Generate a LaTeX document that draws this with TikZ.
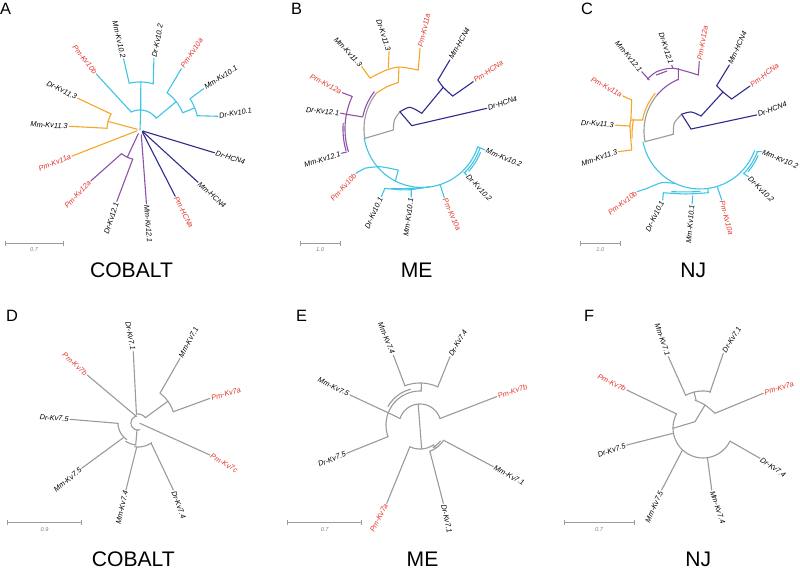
\documentclass[tikz,border=0pt]{standalone}
\usepackage{fontspec}
\setmainfont{Liberation Sans}

\definecolor{cyanarbre}{RGB}{64,196,230}
\definecolor{orangearbre}{RGB}{245,166,40}
\definecolor{violetarbre}{RGB}{142,82,168}
\definecolor{marinearbre}{RGB}{48,44,140}
\definecolor{grisarbre}{RGB}{155,155,155}
\definecolor{rouge}{RGB}{230,50,40}

\newcounter{nfeuille}
\newcommand{\lamp}[1]{\textcolor{rouge}{#1}}
% arc centre sur la racine : rayon, angle debut, angle fin, style
\newcommand{\arcp}[4]{\draw[#4] plot[domain=#2:#3, samples=30] (\x:#1);}
% feuille : angle/rayon de depart, angle/rayon du bout, angle du texte, style, texte
\newcommand{\feuille}[7]{%
  \stepcounter{nfeuille}%
  \draw[#6] (#1:#2) -- (#3:#4) coordinate (b\thenfeuille);
  \ifdim #5pt<90pt
    \node[etiq,anchor=west,rotate=#5] (f\thenfeuille) at (b\thenfeuille) {#7};
  \else
    \node[etiq,anchor=east,rotate=#5-180] (f\thenfeuille) at (b\thenfeuille) {#7};
  \fi}

\tikzset{
  branche/.style={line width=0.95pt, line cap=round},
  kvdix/.style={branche, draw=cyanarbre},
  kvonze/.style={branche, draw=orangearbre},
  kvdouze/.style={branche, draw=violetarbre},
  hcn/.style={branche, draw=marinearbre},
  racine/.style={branche, draw=grisarbre},
  kvsept/.style={branche, draw=grisarbre},
  etiq/.style={font=\fontsize{6.3}{7}\selectfont\itshape, inner sep=1pt},
  titre/.style={font=\fontsize{18}{20}\selectfont, anchor=base, inner sep=0pt},
  lettre/.style={font=\fontsize{14}{16}\selectfont, anchor=base west, inner sep=0pt},
  echelle/.style={draw=grisarbre, line width=0.7pt},
  echtxt/.style={font=\fontsize{4.8}{5}\selectfont\itshape, text=gray, inner sep=0pt}
}

\begin{document}
\begin{tikzpicture}[x=0.03cm, y=0.03cm]
  \useasboundingbox (0,0) rectangle (800,-571);

  % Lettres des panneaux
  \node[lettre] (lettreA) at (0,-15) {A};
  \node[lettre] (lettreB) at (291,-15) {B};
  \node[lettre] (lettreC) at (581,-15) {C};
  \node[lettre] (lettreD) at (6,-322) {D};
  \node[lettre] (lettreE) at (296,-322) {E};
  \node[lettre] (lettreF) at (584,-322) {F};

  % Titres
  \node[titre] (titreA) at (131.5,-278) {COBALT};
  \node[titre] (titreB) at (416.7,-278) {ME};
  \node[titre] (titreC) at (693.3,-278) {NJ};
  \node[titre] (titreD) at (133.3,-567) {COBALT};
  \node[titre] (titreE) at (422.5,-567) {ME};
  \node[titre] (titreF) at (698.3,-567) {NJ};

  % Barres d'echelle
  \foreach \xa/\xb/\yy/\val [count=\i] in {5/63.3/243.3/0.7, 300/340/243.3/1.0,
      580.7/620/243.3/1.0, 7.3/81.7/522.7/0.9, 287.7/361.7/522.7/0.7, 564/634/522.7/0.7}
  {
    \draw[echelle] (\xa,-\yy) -- (\xb,-\yy);
    \draw[echelle] (\xa,{-\yy+2.7}) -- (\xa,{-\yy-2.7});
    \draw[echelle] (\xb,{-\yy+2.7}) -- (\xb,{-\yy-2.7});
    \node[echtxt] (ech\i) at ({(\xa+\xb)/2},{-\yy-6.5}) {\val};
  }

  % Panneau A : COBALT
  \begin{scope}[shift={(140,-130)}]
    \draw[kvdix] (0,0) -- (88:20);
    \arcp{20}{36}{116}{kvdix}
    \feuille{116}{20}{128}{71}{128}{kvdix}{\lamp{Pm-Kv10b}}
    \draw[kvdix] (88:20) -- (89:48);
    \arcp{48}{74}{103}{kvdix}
    \feuille{103}{48}{103}{73}{103}{kvdix}{Mm-Kv10.2}
    \feuille{74}{48}{79}{73}{79}{kvdix}{Dr-Kv10.2}
    \draw[kvdix] (36:20) -- (38:46);
    \arcp{46}{22}{54}{kvdix}
    \feuille{54}{46}{56}{74}{56}{kvdix}{\lamp{Pm-Kv10a}}
    \draw[kvdix] (22:46) -- (22:59);
    \arcp{59}{14}{32}{kvdix}
    \feuille{32}{59}{33}{76}{33}{kvdix}{Mm-Kv10.1}
    \feuille{14}{59}{10}{79}{10}{kvdix}{Dr-Kv10.1}
    \draw[kvonze] (165:3) -- (165:33);
    \arcp{33}{151}{177}{kvonze}
    \feuille{151}{33}{153}{70}{153}{kvonze}{Dr-Kv11.3}
    \feuille{177}{33}{177}{71}{177}{kvonze}{Mm-Kv11.3}
    \feuille{195}{3}{201}{73}{201}{kvonze}{\lamp{Pm-Kv11a}}
    \draw[kvdouze] (245:4) -- (245:30);
    \arcp{30}{232}{256}{kvdouze}
    \feuille{232}{30}{226}{71}{226}{kvdouze}{\lamp{Pm-Kv12a}}
    \feuille{256}{30}{252}{75}{252}{kvdouze}{Dr-Kv12.1}
    \feuille{-75}{5}{-85}{74}{-85}{kvdouze}{Mm-Kv12.1}
    \feuille{-40}{3}{-62}{75}{-62}{hcn}{\lamp{Pm-HCNa}}
    \feuille{-30}{3}{-42}{78}{-42}{hcn}{Mm-HCN4}
    \feuille{-20}{3}{-17}{78}{-17}{hcn}{Dr-HCN4}
  \end{scope}

  % Panneau B : ME
  \begin{scope}[shift={(422,-129)}]
    \draw[racine] (189.3:57.8) -- (182:28.7);
    \draw[racine] plot[smooth] coordinates {(182:28.7) (162:29) (142:28)};
    \draw[hcn] plot[smooth] coordinates {(142:28) (119:24.8) (91:15.7)};
    \draw[hcn] (142:28) -- (162:10.8);
    \feuille{162}{10.8}{17.7}{68}{18}{hcn}{Dr-HCN4}
    \draw[hcn] (91:15.7) -- (63:46.8);
    \draw[hcn] plot[smooth] coordinates {(72:51.5) (63:46.8) (47:45)};
    \feuille{72}{51.5}{68}{74.5}{60}{hcn}{Mm-HCN4}
    \feuille{47}{45}{42.7}{69.8}{34}{hcn}{\lamp{Pm-HCNa}}
    \arcp{58}{142}{189}{racine}
    \arcp{60.5}{142}{168}{kvdouze}
    \draw[kvdouze] (168.5:60.5) -- (169:77);
    \arcp{77}{155}{197}{kvdouze}
    \arcp{79}{176}{196}{kvdouze}
    \feuille{155}{77}{155.5}{87.6}{152}{kvdouze}{\lamp{Pm-Kv12a}}
    \feuille{169}{77}{169}{83}{174}{kvdouze}{Dr-Kv12.1}
    \feuille{197}{79}{196.8}{84}{198}{kvdouze}{Mm-Kv12.1}
    \draw[kvonze] plot[smooth] coordinates {(142:58) (130:55) (117:52.2)};
    \draw[kvonze] (117:52.2) -- (110.6:65.5);
    \draw[kvonze] plot[smooth] coordinates {(135.6:72.8) (122:69) (110.4:66.1) (93.6:59.1)};
    \feuille{135.6}{72.8}{134}{86.7}{133}{kvonze}{Mm-Kv11.3}
    \feuille{118.9}{69.7}{113.1}{84}{108}{kvonze}{Dr-Kv11.3}
    \feuille{93.6}{59.1}{91.4}{80.7}{77}{kvonze}{\lamp{Pm-Kv11a}}
    \arcp{58.5}{189}{342.5}{kvdix}
    \draw[kvdix] (243:59) -- (240:47.5);
    \draw[kvdix] plot[smooth] coordinates {(240:47.5) (222:56.4) (214.5:69.2)};
    \feuille{214.5}{69.2}{213.8}{79.7}{228}{kvdix}{\lamp{Pm-Kv10b}}
    \draw[kvdix] plot[smooth] coordinates {(238:70) (256:62.8) (278:58.2)};
    \draw[kvdix] plot[smooth] coordinates {(243:67) (258:60.8) (272:58.5)};
    \feuille{238}{70}{239}{79}{245}{kvdix}{Dr-Kv10.1}
    \feuille{260}{62}{261}{69}{262}{kvdix}{Mm-Kv10.1}
    \feuille{-72}{58.5}{-72}{72}{-66}{kvdix}{\lamp{Pm-Kv10a}}
    \arcp{61}{-46}{-18}{kvdix}
    \arcp{63}{-42}{-22}{kvdix}
    \feuille{-18}{59}{-18.4}{66.4}{-22}{kvdix}{Mm-Kv10.2}
    \feuille{-46}{60}{-45.8}{64}{-46}{kvdix}{Dr-Kv10.2}
  \end{scope}

  % Panneau C : NJ
  \begin{scope}[shift={(700,-131)}]
    \draw[racine] (191:56) -- (187:26.9);
    \draw[racine] plot[smooth] coordinates {(187:26.9) (162.7:26.9) (137.6:24.8)};
    \draw[hcn] plot[smooth] coordinates {(137.6:24.8) (115:21) (86:15)};
    \draw[hcn] (137.6:24.8) -- (167.5:9.2);
    \feuille{167.5}{9.2}{15.8}{58.9}{20}{hcn}{Dr-HCN4}
    \draw[hcn] (86:15) -- (59.5:45.3);
    \draw[hcn] plot[smooth] coordinates {(69.8:48.3) (59.5:45.3) (45.3:45)};
    \feuille{69.8}{48.3}{66}{72.2}{65}{hcn}{Mm-HCN4}
    \feuille{45.3}{45}{42}{67.3}{37}{hcn}{\lamp{Pm-HCNa}}
    \arcp{56}{140}{191}{racine}
    \arcp{58.5}{140}{169}{kvonze}
    \draw[kvonze] (169:58) -- (171:69.9);
    \draw[kvonze] plot[smooth] coordinates {(155.6:75) (171:70) (176:70.2) (195.5:70.9)};
    \draw[kvonze] plot[smooth] coordinates {(170:67.5) (178:67.8) (186:68.3)};
    \feuille{155.6}{75}{155.6}{84.9}{152}{kvonze}{\lamp{Pm-Kv11a}}
    \feuille{176}{70.2}{176}{85.2}{176}{kvonze}{Dr-Kv11.3}
    \feuille{195.5}{70.9}{194.2}{84.3}{198}{kvonze}{Mm-Kv11.3}
    \arcp{56}{113}{140}{kvdouze}
    \draw[kvdouze] (113:55.4) -- (109:66.3);
    \draw[kvdouze] plot[smooth] coordinates {(135.5:73.8) (126:73.4) (113:68.1) (91.7:56)};
    \draw[kvdouze] plot[smooth] coordinates {(128:71) (119:68.5)};
    \feuille{134.8}{71.9}{134.5}{83.2}{130}{kvdouze}{Mm-Kv12.1}
    \feuille{113.3}{68.5}{113.3}{71.5}{108}{kvdouze}{Dr-Kv12.1}
    \feuille{91.7}{56}{90.6}{69.3}{80}{kvdouze}{\lamp{Pm-Kv12a}}
    \arcp{58}{191}{340}{kvdix}
    \draw[kvdix] plot[smooth] coordinates {(245:58) (233.5:64.3) (227.4:77.9)};
    \feuille{227.4}{77.9}{224}{87.3}{218}{kvdix}{\lamp{Pm-Kv10b}}
    \draw[kvdix] (277.7:58) -- (277.7:62.3);
    \draw[kvdix] plot[smooth] coordinates {(239.3:71.8) (257.5:64.5) (277.7:62.3)};
    \draw[kvdix] plot[smooth] coordinates {(245:67) (258:62.3) (270:60.5)};
    \feuille{239.3}{71.8}{241.6}{78.4}{244}{kvdix}{Dr-Kv10.1}
    \feuille{263.6}{65.4}{263.8}{73.4}{265}{kvdix}{Mm-Kv10.1}
    \feuille{-72.8}{58}{-72.5}{72.3}{-75}{kvdix}{\lamp{Pm-Kv10a}}
    \arcp{61}{-44}{-20}{kvdix}
    \arcp{63}{-40}{-23}{kvdix}
    \feuille{-20}{60.4}{-18.5}{65}{-22}{kvdix}{Mm-Kv10.2}
    \feuille{-44.3}{60.5}{-43.4}{66.5}{-45}{kvdix}{Dr-Kv10.2}
  \end{scope}

  % Panneau D : COBALT
  \begin{scope}[shift={(138,-423)}]
    \arcp{7}{100}{286}{kvsept}
    \arcp{9}{36}{100}{kvsept}
    \draw[kvsept] (36:9) -- (36:37);
    \arcp{37}{17.7}{53.5}{kvsept}
    \feuille{53.5}{37}{57}{77.1}{62}{kvsept}{Mm-Kv7.1}
    \feuille{17.7}{37}{18.9}{76.1}{16}{kvsept}{\lamp{Pm-Kv7a}}
    \feuille{100}{9}{93.8}{71.5}{100}{kvsept}{Dr-Kv7.1}
    \feuille{105}{7}{136.6}{69.8}{138}{kvsept}{\lamp{Pm-Kv7b}}
    \feuille{-10}{2}{-24}{78.8}{-30}{kvsept}{\lamp{Pm-Kv7c}}
    \arcp{20}{181}{236}{kvsept}
    \arcp{22}{236}{264}{kvsept}
    \draw[kvsept] (262:7) -- (264:22);
    \arcp{24}{262}{305}{kvsept}
    \feuille{181}{20}{176.9}{68.1}{176}{kvsept}{Dr-Kv7.5}
    \feuille{225}{21}{218.8}{72.3}{220}{kvsept}{Mm-Kv7.5}
    \feuille{267}{24}{259.8}{68.1}{257}{kvsept}{Mm-Kv7.4}
    \feuille{-57}{24}{-62.2}{75.7}{-70}{kvsept}{Dr-Kv7.4}
  \end{scope}

  % Panneau E : ME
  \begin{scope}[shift={(420,-425)}]
    \arcp{21}{18}{162}{kvsept}
    \feuille{18}{21}{20.3}{81.8}{18}{kvsept}{\lamp{Pm-Kv7b}}
    \draw[kvsept] (95:21) -- (274:24);
    \arcp{24}{245}{304}{kvsept}
    \feuille{245}{24}{247}{85.1}{242}{kvsept}{\lamp{Pm-Kv7a}}
    \draw[kvsept] (-56:24) -- (-56:28);
    \arcp{28}{-70}{-33}{kvsept}
    \arcp{26}{-60}{-38}{kvsept}
    \feuille{-33}{28}{-29.6}{84.3}{-29}{kvsept}{Mm-Kv7.1}
    \feuille{-69.5}{28.5}{-73.4}{81.7}{-78}{kvsept}{Dr-Kv7.1}
    \draw[kvsept] (162:21) -- (159:34);
    \arcp{34}{88}{200}{kvsept}
    \arcp{37}{105}{150}{kvsept}
    \feuille{159}{34}{156.8}{76.2}{154}{kvsept}{Mm-Kv7.5}
    \feuille{200}{34}{201.1}{78.6}{202}{kvsept}{Dr-Kv7.5}
    \draw[kvsept] (88:34) -- (88:42);
    \arcp{42}{65}{111}{kvsept}
    \feuille{111}{42}{110.9}{74.9}{112}{kvsept}{Mm-Kv7.4}
    \feuille{65}{42}{66.3}{74.6}{60}{kvsept}{Dr-Kv7.4}
  \end{scope}

  % Panneau F : NJ
  \begin{scope}[shift={(703,-428)}]
    \draw[kvsept] (104:29) -- (104:37);
    \arcp{37}{79}{118}{kvsept}
    \feuille{118}{37}{115.9}{79.3}{109}{kvsept}{Mm-Kv7.1}
    \feuille{79}{36}{74.8}{77.4}{58}{kvsept}{Dr-Kv7.1}
    \draw[kvsept] plot[smooth] coordinates {(106:29) (85:23.1) (50.8:19)};
    \feuille{50.8}{19}{29.9}{69.6}{18}{kvsept}{\lamp{Pm-Kv7a}}
    \draw[kvsept] (85:23.1) -- (141.8:10.2) -- (180.6:30);
    \arcp{30}{152}{334}{kvsept}
    \feuille{152}{30}{153.5}{85.2}{154}{kvsept}{\lamp{Pm-Kv7b}}
    \feuille{190}{30}{192.6}{78.2}{200}{kvsept}{Dr-Kv7.5}
    \feuille{227}{30}{236.3}{74.5}{246}{kvsept}{Mm-Kv7.5}
    \feuille{-81.5}{30}{-82}{62.6}{-71}{kvsept}{Mm-Kv7.4}
    \feuille{-26}{30}{-28}{64.6}{-35}{kvsept}{Dr-Kv7.4}
  \end{scope}
\end{tikzpicture}
\end{document}
